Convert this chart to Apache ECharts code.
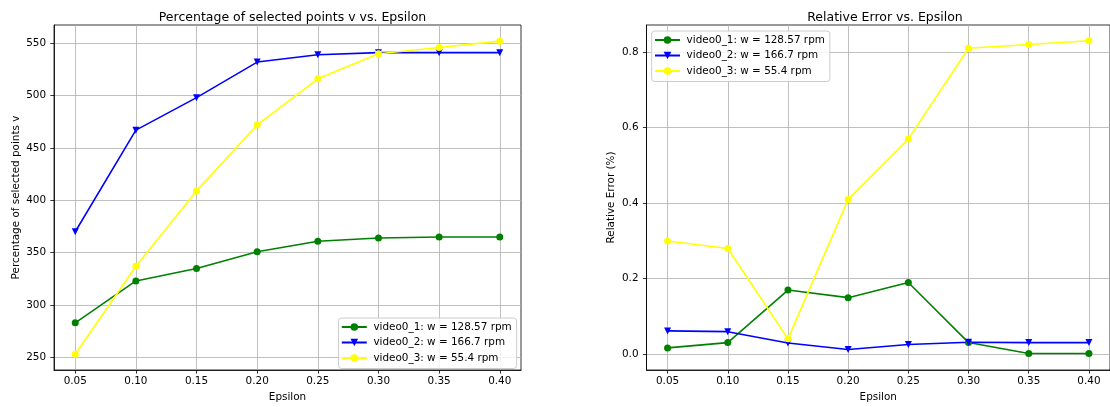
<!DOCTYPE html>
<html>
<head>
<meta charset="utf-8">
<script src="https://cdn.jsdelivr.net/npm/echarts@6/dist/echarts.min.js"></script>
<style>
html,body{margin:0;padding:0;background:#fff;}
#chart{width:1110px;height:407px;}
</style>
</head>
<body>
<div id="chart"></div>
<script>
// ---- data ----
const epsilon = [0.05, 0.10, 0.15, 0.20, 0.25, 0.30, 0.35, 0.40];
const seriesNames = ['video0_1: w = 128.57 rpm', 'video0_2: w = 166.7 rpm', 'video0_3: w = 55.4 rpm'];
const pctVideo1 = [283, 323, 335, 351, 361, 364, 365, 365];
const pctVideo2 = [370, 467, 498, 532, 539, 541, 541, 541];
const pctVideo3 = [253, 337, 409, 472, 516, 540, 546, 552];
const errVideo1 = [0.017, 0.031, 0.17, 0.15, 0.19, 0.031, 0.002, 0.002];
const errVideo2 = [0.062, 0.060, 0.030, 0.013, 0.026, 0.032, 0.031, 0.031];
const errVideo3 = [0.30, 0.28, 0.041, 0.41, 0.57, 0.81, 0.82, 0.83];
const xTicks = [0.05, 0.10, 0.15, 0.20, 0.25, 0.30, 0.35, 0.40];
const leftYTicks = [250, 300, 350, 400, 450, 500, 550];
const rightYTicks = [0.0, 0.2, 0.4, 0.6, 0.8];

const FONT = 'DejaVu Sans';
const FS = 10.42;
const colors = ['#008000', '#0000ff', '#ffff00'];
const symbols = ['circle', 'triangle', 'circle'];
const rotations = [0, 180, 0];

function pairs(ys) { return epsilon.map((x, i) => [x, ys[i]]); }

function mkX(gridIndex) {
  return {
    type: 'value', gridIndex: gridIndex, min: 0.0325, max: 0.4175,
    name: 'Epsilon', nameLocation: 'middle', nameGap: 22,
    nameTextStyle: {fontFamily: FONT, fontSize: FS, color: '#000'},
    axisLine: {show: true, onZero: false, lineStyle: {color: '#000', width: 0.8}},
    axisTick: {show: true, inside: false, length: 3.6, lineStyle: {color: '#000', width: 0.8}, customValues: xTicks},
    axisLabel: {show: true, margin: 6, fontFamily: FONT, fontSize: FS, color: '#000', customValues: xTicks,
      formatter: v => v.toFixed(2)},
    splitLine: {show: true, lineStyle: {color: '#b0b0b0', width: 0.8}}
  };
}
function mkY(gridIndex, min, max, ticks, name, gap, fmt) {
  return {
    type: 'value', gridIndex: gridIndex, min: min, max: max,
    name: name, nameLocation: 'middle', nameGap: gap, nameRotate: 90,
    nameTextStyle: {fontFamily: FONT, fontSize: FS, color: '#000'},
    axisLine: {show: true, onZero: false, lineStyle: {color: '#000', width: 0.8}},
    axisTick: {show: true, inside: false, length: 3.6, lineStyle: {color: '#000', width: 0.8}, customValues: ticks},
    axisLabel: {show: true, margin: 8, fontFamily: FONT, fontSize: FS, color: '#000', customValues: ticks,
      formatter: fmt},
    splitLine: {show: true, lineStyle: {color: '#b0b0b0', width: 0.8}}
  };
}
function mkSeries(i, data, axisIdx) {
  return {
    type: 'line', name: seriesNames[i], xAxisIndex: axisIdx, yAxisIndex: axisIdx,
    data: pairs(data), symbol: symbols[i], symbolRotate: rotations[i], symbolSize: 7,
    showAllSymbol: true,
    lineStyle: {color: colors[i], width: 1.56},
    itemStyle: {color: colors[i], borderWidth: 0},
    emphasis: {disabled: true}
  };
}
function mkLegend(left, top) {
  return {
    orient: 'vertical', left: left, top: top,
    itemWidth: 25, itemHeight: 9.5, itemGap: 3.5,
    padding: [3, 5, 4.5, 2.3],
    backgroundColor: 'rgba(255,255,255,0.8)', borderColor: '#cccccc', borderWidth: 1, borderRadius: 3,
    textStyle: {fontFamily: FONT, fontSize: FS, color: '#000', lineHeight: 12, padding: [0, 0, 0, 1.6]},
    selectedMode: false,
    data: seriesNames
  };
}

const chart = echarts.init(document.getElementById('chart'), null, {renderer: 'canvas'});
const option = {
  animation: false,
  backgroundColor: '#fff',
  title: [
    {text: 'Percentage of selected points v vs. Epsilon', left: 287.5, top: 6, textAlign: 'center',
      textStyle: {fontFamily: FONT, fontSize: 12.5, fontWeight: 'normal', color: '#000'}},
    {text: 'Relative Error vs. Epsilon', left: 880, top: 6, textAlign: 'center',
      textStyle: {fontFamily: FONT, fontSize: 12.5, fontWeight: 'normal', color: '#000'}}
  ],
  grid: [
    {left: 54, right: 589, top: 25, bottom: 33, show: true, borderColor: '#000', borderWidth: 0.8, backgroundColor: 'transparent'},
    {left: 646.5, right: -4, top: 25, bottom: 33, show: true, borderColor: '#000', borderWidth: 0.8, backgroundColor: 'transparent'}
  ],
  xAxis: [mkX(0), mkX(1)],
  yAxis: [
    mkY(0, 238, 567.4, leftYTicks, 'Percentage of selected points v', 33, v => String(v)),
    mkY(1, -0.0415, 0.8715, rightYTicks, 'Relative Error (%)', 30, v => v.toFixed(1))
  ],
  legend: [
    mkLegend(338.5, 318),
    mkLegend(651.7, 31)
  ],
  series: [
    mkSeries(0, pctVideo1, 0), mkSeries(1, pctVideo2, 0), mkSeries(2, pctVideo3, 0),
    mkSeries(0, errVideo1, 1), mkSeries(1, errVideo2, 1), mkSeries(2, errVideo3, 1)
  ]
};
chart.setOption(option);
</script>
</body>
</html>
